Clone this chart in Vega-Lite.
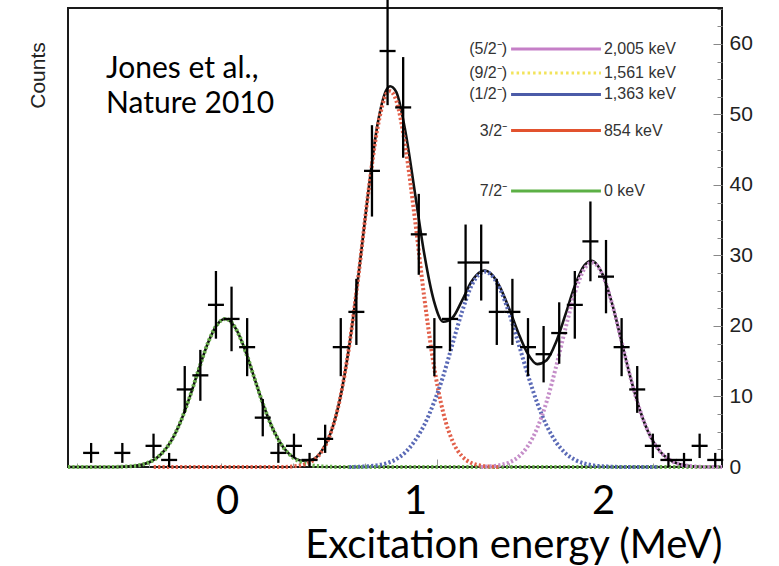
{
  "$schema": "https://vega.github.io/schema/vega-lite/v6.json",
  "width": 654,
  "height": 459,
  "autosize": {"type": "none"},
  "padding": {"left": 68, "top": 8, "right": 57, "bottom": 99},
  "background": "white",
  "config": {"view": {"stroke": "#1a1a1a", "strokeWidth": 2}, "font": "Liberation Sans"},
  "title": {
    "text": ["Jones et al.,", "Nature 2010"],
    "orient": "top",
    "anchor": "start",
    "frame": "group",
    "font": "Lato",
    "fontSize": 30,
    "fontWeight": "normal",
    "color": "#000",
    "lineHeight": 35,
    "baseline": "top",
    "offset": -123,
    "dx": 38
  },
  "datasets": {
    "counts": [
      {"E": -0.723, "N": 2, "lo": 0.59, "hi": 3.41},
      {"E": -0.557, "N": 2, "lo": 0.59, "hi": 3.41},
      {"E": -0.391, "N": 3, "lo": 1.27, "hi": 4.73},
      {"E": -0.308, "N": 1, "lo": 0, "hi": 2},
      {"E": -0.225, "N": 11, "lo": 7.68, "hi": 14.32},
      {"E": -0.142, "N": 13, "lo": 9.39, "hi": 16.61},
      {"E": -0.059, "N": 23, "lo": 18.2, "hi": 27.8},
      {"E": 0.024, "N": 21, "lo": 16.42, "hi": 25.58},
      {"E": 0.107, "N": 17, "lo": 12.88, "hi": 21.12},
      {"E": 0.19, "N": 7, "lo": 4.35, "hi": 9.65},
      {"E": 0.273, "N": 2, "lo": 0.59, "hi": 3.41},
      {"E": 0.356, "N": 3, "lo": 1.27, "hi": 4.73},
      {"E": 0.439, "N": 1, "lo": 0, "hi": 2},
      {"E": 0.522, "N": 4, "lo": 2, "hi": 6},
      {"E": 0.605, "N": 17, "lo": 12.88, "hi": 21.12},
      {"E": 0.688, "N": 22, "lo": 17.31, "hi": 26.69},
      {"E": 0.771, "N": 42, "lo": 35.52, "hi": 48.48},
      {"E": 0.854, "N": 59, "lo": 51.32, "hi": 66.68},
      {"E": 0.937, "N": 51, "lo": 43.86, "hi": 58.14},
      {"E": 1.02, "N": 33, "lo": 27.26, "hi": 38.74},
      {"E": 1.103, "N": 17, "lo": 12.88, "hi": 21.12},
      {"E": 1.186, "N": 21, "lo": 16.42, "hi": 25.58},
      {"E": 1.269, "N": 29, "lo": 23.61, "hi": 34.39},
      {"E": 1.352, "N": 29, "lo": 23.61, "hi": 34.39},
      {"E": 1.435, "N": 22, "lo": 17.31, "hi": 26.69},
      {"E": 1.518, "N": 22, "lo": 17.31, "hi": 26.69},
      {"E": 1.601, "N": 17, "lo": 12.88, "hi": 21.12},
      {"E": 1.684, "N": 16, "lo": 12, "hi": 20},
      {"E": 1.767, "N": 19, "lo": 14.64, "hi": 23.36},
      {"E": 1.85, "N": 23, "lo": 18.2, "hi": 27.8},
      {"E": 1.933, "N": 32, "lo": 26.34, "hi": 37.66},
      {"E": 2.016, "N": 27, "lo": 21.8, "hi": 32.2},
      {"E": 2.099, "N": 17, "lo": 12.88, "hi": 21.12},
      {"E": 2.182, "N": 11, "lo": 7.68, "hi": 14.32},
      {"E": 2.265, "N": 3, "lo": 1.27, "hi": 4.73},
      {"E": 2.348, "N": 1, "lo": 0, "hi": 2},
      {"E": 2.431, "N": 1, "lo": 0, "hi": 2},
      {"E": 2.514, "N": 3, "lo": 1.27, "hi": 4.73},
      {"E": 2.597, "N": 1, "lo": 0, "hi": 2}
    ],
    "total": [
      {"E": -0.846, "N": 0}, {"E": -0.65, "N": 0}, {"E": -0.6, "N": 0.01}, {"E": -0.55, "N": 0.05},
      {"E": -0.5, "N": 0.13}, {"E": -0.45, "N": 0.35}, {"E": -0.4, "N": 0.85}, {"E": -0.35, "N": 1.84},
      {"E": -0.3, "N": 3.57}, {"E": -0.25, "N": 6.24}, {"E": -0.2, "N": 9.81}, {"E": -0.15, "N": 13.89},
      {"E": -0.1, "N": 17.7}, {"E": -0.05, "N": 20.3}, {"E": -0.01, "N": 21.0}, {"E": 0.0, "N": 20.96},
      {"E": 0.05, "N": 19.47}, {"E": 0.1, "N": 16.27}, {"E": 0.15, "N": 12.24}, {"E": 0.2, "N": 8.29},
      {"E": 0.25, "N": 5.05}, {"E": 0.3, "N": 2.77}, {"E": 0.35, "N": 1.45}, {"E": 0.4, "N": 0.88},
      {"E": 0.45, "N": 1.03}, {"E": 0.5, "N": 2.14}, {"E": 0.55, "N": 4.73}, {"E": 0.6, "N": 9.55},
      {"E": 0.65, "N": 17.17}, {"E": 0.7, "N": 27.4}, {"E": 0.75, "N": 38.7}, {"E": 0.8, "N": 48.5},
      {"E": 0.85, "N": 53.6}, {"E": 0.867, "N": 54.0}, {"E": 0.9, "N": 53.2}, {"E": 0.95, "N": 47.4},
      {"E": 1.0, "N": 38.8}, {"E": 1.05, "N": 30.09}, {"E": 1.1, "N": 23.6}, {"E": 1.15, "N": 20.6},
      {"E": 1.2, "N": 21.2}, {"E": 1.25, "N": 23.6}, {"E": 1.3, "N": 26.27}, {"E": 1.35, "N": 27.7},
      {"E": 1.372, "N": 27.86}, {"E": 1.4, "N": 27.53}, {"E": 1.45, "N": 25.63}, {"E": 1.5, "N": 22.51},
      {"E": 1.55, "N": 18.98}, {"E": 1.6, "N": 16.05}, {"E": 1.65, "N": 14.59}, {"E": 1.7, "N": 15.14},
      {"E": 1.75, "N": 17.7}, {"E": 1.8, "N": 21.6}, {"E": 1.85, "N": 25.68}, {"E": 1.9, "N": 28.56},
      {"E": 1.941, "N": 29.26}, {"E": 1.95, "N": 29.17}, {"E": 2.0, "N": 27.18}, {"E": 2.05, "N": 23.01},
      {"E": 2.1, "N": 17.66}, {"E": 2.15, "N": 12.3}, {"E": 2.2, "N": 7.77}, {"E": 2.25, "N": 4.45},
      {"E": 2.3, "N": 2.31}, {"E": 2.35, "N": 1.09}, {"E": 2.4, "N": 0.46}, {"E": 2.45, "N": 0.18},
      {"E": 2.5, "N": 0.06}, {"E": 2.55, "N": 0.02}, {"E": 2.633, "N": 0}
    ],
    "components": [
      {"state": "7/2⁻", "E": -0.846, "N": 0}, {"state": "7/2⁻", "E": -0.6, "N": 0.01},
      {"state": "7/2⁻", "E": -0.55, "N": 0.05}, {"state": "7/2⁻", "E": -0.5, "N": 0.13},
      {"state": "7/2⁻", "E": -0.45, "N": 0.35}, {"state": "7/2⁻", "E": -0.4, "N": 0.85},
      {"state": "7/2⁻", "E": -0.35, "N": 1.84}, {"state": "7/2⁻", "E": -0.3, "N": 3.57},
      {"state": "7/2⁻", "E": -0.25, "N": 6.24}, {"state": "7/2⁻", "E": -0.2, "N": 9.81},
      {"state": "7/2⁻", "E": -0.15, "N": 13.89}, {"state": "7/2⁻", "E": -0.1, "N": 17.7},
      {"state": "7/2⁻", "E": -0.05, "N": 20.3}, {"state": "7/2⁻", "E": -0.01, "N": 21.0},
      {"state": "7/2⁻", "E": 0.0, "N": 20.96}, {"state": "7/2⁻", "E": 0.05, "N": 19.47},
      {"state": "7/2⁻", "E": 0.1, "N": 16.27}, {"state": "7/2⁻", "E": 0.15, "N": 12.24},
      {"state": "7/2⁻", "E": 0.2, "N": 8.29}, {"state": "7/2⁻", "E": 0.25, "N": 5.05},
      {"state": "7/2⁻", "E": 0.3, "N": 2.77}, {"state": "7/2⁻", "E": 0.35, "N": 1.37},
      {"state": "7/2⁻", "E": 0.4, "N": 0.61}, {"state": "7/2⁻", "E": 0.45, "N": 0.24},
      {"state": "7/2⁻", "E": 0.5, "N": 0.09}, {"state": "7/2⁻", "E": 0.55, "N": 0.03},
      {"state": "7/2⁻", "E": 0.6, "N": 0.01}, {"state": "7/2⁻", "E": 2.633, "N": 0},

      {"state": "3/2⁻", "E": -0.39, "N": 0}, {"state": "3/2⁻", "E": 0.3, "N": 0},
      {"state": "3/2⁻", "E": 0.35, "N": 0.08}, {"state": "3/2⁻", "E": 0.4, "N": 0.27},
      {"state": "3/2⁻", "E": 0.45, "N": 0.79}, {"state": "3/2⁻", "E": 0.5, "N": 2.05},
      {"state": "3/2⁻", "E": 0.55, "N": 4.7}, {"state": "3/2⁻", "E": 0.6, "N": 9.55},
      {"state": "3/2⁻", "E": 0.65, "N": 17.17}, {"state": "3/2⁻", "E": 0.7, "N": 27.36},
      {"state": "3/2⁻", "E": 0.75, "N": 38.6}, {"state": "3/2⁻", "E": 0.8, "N": 48.0},
      {"state": "3/2⁻", "E": 0.85, "N": 53.0}, {"state": "3/2⁻", "E": 0.867, "N": 53.3},
      {"state": "3/2⁻", "E": 0.9, "N": 52.0}, {"state": "3/2⁻", "E": 0.95, "N": 45.2},
      {"state": "3/2⁻", "E": 1.0, "N": 35.04}, {"state": "3/2⁻", "E": 1.05, "N": 23.88},
      {"state": "3/2⁻", "E": 1.1, "N": 14.43}, {"state": "3/2⁻", "E": 1.15, "N": 7.72},
      {"state": "3/2⁻", "E": 1.2, "N": 3.65}, {"state": "3/2⁻", "E": 1.25, "N": 1.53},
      {"state": "3/2⁻", "E": 1.3, "N": 0.57}, {"state": "3/2⁻", "E": 1.35, "N": 0.19},
      {"state": "3/2⁻", "E": 1.4, "N": 0.05}, {"state": "3/2⁻", "E": 1.45, "N": 0},

      {"state": "(1/2⁻)", "E": 0.65, "N": 0}, {"state": "(1/2⁻)", "E": 0.7, "N": 0.04},
      {"state": "(1/2⁻)", "E": 0.75, "N": 0.1}, {"state": "(1/2⁻)", "E": 0.8, "N": 0.25},
      {"state": "(1/2⁻)", "E": 0.85, "N": 0.54}, {"state": "(1/2⁻)", "E": 0.9, "N": 1.11},
      {"state": "(1/2⁻)", "E": 0.95, "N": 2.12}, {"state": "(1/2⁻)", "E": 1.0, "N": 3.76},
      {"state": "(1/2⁻)", "E": 1.05, "N": 6.0}, {"state": "(1/2⁻)", "E": 1.1, "N": 9.1},
      {"state": "(1/2⁻)", "E": 1.15, "N": 12.9}, {"state": "(1/2⁻)", "E": 1.2, "N": 17.5},
      {"state": "(1/2⁻)", "E": 1.25, "N": 22.0}, {"state": "(1/2⁻)", "E": 1.3, "N": 25.7},
      {"state": "(1/2⁻)", "E": 1.35, "N": 27.51}, {"state": "(1/2⁻)", "E": 1.372, "N": 27.7},
      {"state": "(1/2⁻)", "E": 1.4, "N": 27.39}, {"state": "(1/2⁻)", "E": 1.45, "N": 25.37},
      {"state": "(1/2⁻)", "E": 1.5, "N": 21.87}, {"state": "(1/2⁻)", "E": 1.55, "N": 17.54},
      {"state": "(1/2⁻)", "E": 1.6, "N": 13.09}, {"state": "(1/2⁻)", "E": 1.65, "N": 9.09},
      {"state": "(1/2⁻)", "E": 1.7, "N": 5.87}, {"state": "(1/2⁻)", "E": 1.75, "N": 3.53},
      {"state": "(1/2⁻)", "E": 1.8, "N": 1.97}, {"state": "(1/2⁻)", "E": 1.85, "N": 1.03},
      {"state": "(1/2⁻)", "E": 1.9, "N": 0.5}, {"state": "(1/2⁻)", "E": 1.95, "N": 0.22},
      {"state": "(1/2⁻)", "E": 2.0, "N": 0.09}, {"state": "(1/2⁻)", "E": 2.05, "N": 0.04},
      {"state": "(1/2⁻)", "E": 2.1, "N": 0}, {"state": "(1/2⁻)", "E": 2.3, "N": 0},

      {"state": "(5/2⁻)", "E": 1.35, "N": 0}, {"state": "(5/2⁻)", "E": 1.4, "N": 0.09},
      {"state": "(5/2⁻)", "E": 1.45, "N": 0.26}, {"state": "(5/2⁻)", "E": 1.5, "N": 0.64},
      {"state": "(5/2⁻)", "E": 1.55, "N": 1.44}, {"state": "(5/2⁻)", "E": 1.6, "N": 2.96},
      {"state": "(5/2⁻)", "E": 1.65, "N": 5.5}, {"state": "(5/2⁻)", "E": 1.7, "N": 9.27},
      {"state": "(5/2⁻)", "E": 1.75, "N": 14.17}, {"state": "(5/2⁻)", "E": 1.8, "N": 19.63},
      {"state": "(5/2⁻)", "E": 1.85, "N": 24.65}, {"state": "(5/2⁻)", "E": 1.9, "N": 28.06},
      {"state": "(5/2⁻)", "E": 1.941, "N": 29.0}, {"state": "(5/2⁻)", "E": 1.95, "N": 28.95},
      {"state": "(5/2⁻)", "E": 2.0, "N": 27.09}, {"state": "(5/2⁻)", "E": 2.05, "N": 22.97},
      {"state": "(5/2⁻)", "E": 2.1, "N": 17.66}, {"state": "(5/2⁻)", "E": 2.15, "N": 12.3},
      {"state": "(5/2⁻)", "E": 2.2, "N": 7.77}, {"state": "(5/2⁻)", "E": 2.25, "N": 4.45},
      {"state": "(5/2⁻)", "E": 2.3, "N": 2.31}, {"state": "(5/2⁻)", "E": 2.35, "N": 1.09},
      {"state": "(5/2⁻)", "E": 2.4, "N": 0.46}, {"state": "(5/2⁻)", "E": 2.45, "N": 0.18},
      {"state": "(5/2⁻)", "E": 2.5, "N": 0.06}, {"state": "(5/2⁻)", "E": 2.55, "N": 0},
      {"state": "(5/2⁻)", "E": 2.633, "N": 0}
    ],
    "levels": [
      {"spin": "(5/2⁻)", "keV": 2005, "label": "2,005 keV"},
      {"spin": "(9/2⁻)", "keV": 1561, "label": "1,561 keV"},
      {"spin": "(1/2⁻)", "keV": 1363, "label": "1,363 keV"},
      {"spin": "3/2⁻", "keV": 854, "label": "854 keV"},
      {"spin": "7/2⁻", "keV": 0, "label": "0 keV"}
    ]
  },
  "layer": [
    {
      "encoding": {
        "x": {
          "field": "E",
          "type": "quantitative",
          "scale": {"domain": [-0.846, 2.633], "nice": false, "zero": false},
          "axis": {
            "orient": "bottom",
            "values": [0, 1, 2],
            "format": "d",
            "labelFont": "Lato",
            "labelFontSize": 40,
            "labelColor": "#000",
            "labelBaseline": "alphabetic",
            "labelPadding": 46,
            "labelOverlap": false,
            "labelFlush": false,
            "domain": false,
            "grid": false,
            "ticks": false,
            "title": "Excitation energy (MeV)",
            "titleFont": "Lato",
            "titleFontSize": 40,
            "titleFontWeight": "normal",
            "titleColor": "#000",
            "titleAnchor": "end",
            "titleBaseline": "alphabetic",
            "titleY": 90
          }
        },
        "y": {
          "field": "N",
          "type": "quantitative",
          "scale": {"domain": [0, 65.1], "nice": false, "zero": false},
          "axis": {
            "orient": "right",
            "values": [0, 2.5, 5, 7.5, 10, 12.5, 15, 17.5, 20, 22.5, 25, 27.5, 30, 32.5, 35, 37.5, 40, 42.5, 45, 47.5, 50, 52.5, 55, 57.5, 60, 62.5, 65],
            "labelExpr": "datum.value % 10 == 0 ? datum.value + '' : ''",
            "labelFont": "Liberation Sans",
            "labelFontSize": 21,
            "labelColor": "#222",
            "labelPadding": 16,
            "labelOverlap": false,
            "labelFlush": false,
            "labelAlign": "left",
            "labelBaseline": "middle",
            "domain": false,
            "grid": false,
            "tickColor": "#888",
            "tickWidth": 1,
            "tickSize": {"condition": {"test": "datum.value % 10 == 0", "value": -9}, "value": -5},
            "title": null
          }
        }
      },
      "layer": [
        {
          "data": {"name": "total"},
          "mark": {"type": "line", "color": "#111", "strokeWidth": 2.6, "interpolate": "monotone"}
        },
        {
          "data": {"name": "components"},
          "mark": {"type": "line", "strokeWidth": 4, "strokeDash": [2.2, 2.2], "interpolate": "monotone"},
          "encoding": {
            "stroke": {
              "field": "state",
              "type": "nominal",
              "scale": {"domain": ["7/2⁻", "3/2⁻", "(1/2⁻)", "(5/2⁻)"], "range": ["#6db24f", "#e2604a", "#5b6ab6", "#c58ec9"]},
              "legend": null
            }
          }
        },
        {
          "data": {"name": "counts"},
          "mark": {"type": "rule", "color": "#000", "strokeWidth": 2.3},
          "encoding": {
            "y": {"field": "lo", "type": "quantitative", "title": null},
            "y2": {"field": "hi"}
          }
        },
        {
          "data": {"name": "counts"},
          "mark": {"type": "tick", "orient": "horizontal", "color": "#000", "size": 16, "thickness": 2.3, "opacity": 1}
        }
      ]
    },
    {
      "data": {"name": "levels"},
      "encoding": {
        "y": {
          "field": "keV",
          "type": "quantitative",
          "scale": {"domain": [-3897, 2584], "nice": false, "zero": false},
          "axis": {
            "orient": "left",
            "domain": false,
            "ticks": false,
            "labels": false,
            "grid": false,
            "title": "Counts",
            "titleFont": "Liberation Sans",
            "titleFontSize": 21,
            "titleFontWeight": "normal",
            "titleColor": "#222",
            "titleAngle": -90,
            "titleX": -30,
            "titleY": 67,
            "titleAlign": "center",
            "titleBaseline": "middle"
          }
        }
      },
      "layer": [
        {
          "transform": [{"filter": "datum.keV != 1561"}],
          "mark": {"type": "rule", "strokeWidth": 3},
          "encoding": {
            "x": {
              "datum": 1.511,
              "type": "quantitative",
              "axis": {
                "orient": "bottom",
                "values": [-0.798, -0.702, -0.606, -0.511, -0.415, -0.319, -0.223, -0.128, -0.032, 0.064, 0.16, 0.255, 0.351, 0.447, 0.543, 0.638, 0.734, 0.83, 0.926, 1.021, 1.117, 1.213, 1.309, 1.404, 1.5, 1.596, 1.691, 1.787, 1.883, 1.979, 2.074, 2.17, 2.266, 2.362, 2.457, 2.553],
                "labels": false,
                "domain": false,
                "grid": false,
                "title": null,
                "tickColor": "#9a9a9a",
                "tickWidth": 1,
                "tickSize": {"condition": {"test": "indexof([0.16, 0.638, 1.117, 1.596, 2.074, 2.553], datum.value) >= 0", "value": -8}, "value": -4}
              }
            },
            "x2": {"datum": 1.989},
            "color": {
              "field": "spin",
              "type": "nominal",
              "scale": {"domain": ["(5/2⁻)", "(1/2⁻)", "3/2⁻", "7/2⁻"], "range": ["#c57fc7", "#4b5ba8", "#e2522e", "#5cb045"]},
              "legend": null
            }
          }
        },
        {
          "transform": [{"filter": "datum.keV == 1561"}],
          "mark": {"type": "rule", "strokeWidth": 3, "strokeDash": [2.5, 3], "color": "#f2e35a", "yOffset": -7.5},
          "encoding": {
            "x": {"datum": 1.511, "type": "quantitative"},
            "x2": {"datum": 1.989}
          }
        },
        {
          "transform": [{"filter": "datum.keV != 1561"}],
          "mark": {"type": "text", "align": "right", "baseline": "middle", "dx": -4, "fontSize": 16, "color": "#333"},
          "encoding": {
            "x": {"datum": 1.511, "type": "quantitative"},
            "text": {"field": "spin"}
          }
        },
        {
          "transform": [{"filter": "datum.keV == 1561"}],
          "mark": {"type": "text", "align": "right", "baseline": "middle", "dx": -4, "dy": -7.5, "fontSize": 16, "color": "#333"},
          "encoding": {
            "x": {"datum": 1.511, "type": "quantitative"},
            "text": {"field": "spin"}
          }
        },
        {
          "transform": [{"filter": "datum.keV != 1561"}],
          "mark": {"type": "text", "align": "left", "baseline": "middle", "dx": 3, "fontSize": 16, "color": "#333"},
          "encoding": {
            "x": {"datum": 1.989, "type": "quantitative"},
            "text": {"field": "label"}
          }
        },
        {
          "transform": [{"filter": "datum.keV == 1561"}],
          "mark": {"type": "text", "align": "left", "baseline": "middle", "dx": 3, "dy": -7.5, "fontSize": 16, "color": "#333"},
          "encoding": {
            "x": {"datum": 1.989, "type": "quantitative"},
            "text": {"field": "label"}
          }
        }
      ]
    }
  ],
  "resolve": {"scale": {"y": "independent", "color": "independent"}, "axis": {"x": "independent"}}
}
